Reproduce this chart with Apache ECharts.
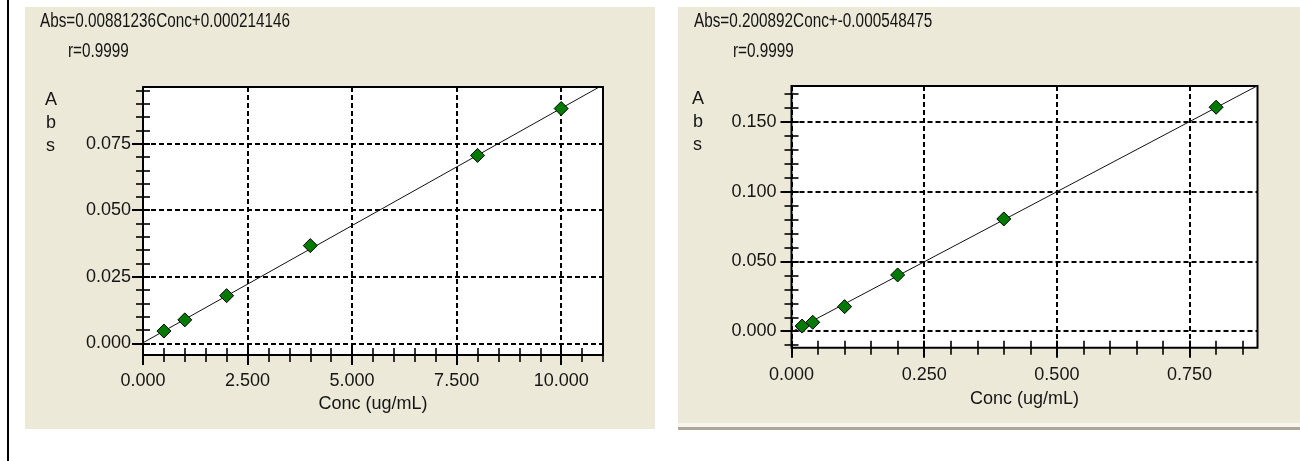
<!DOCTYPE html>
<html><head><meta charset="utf-8">
<script src="https://cdn.jsdelivr.net/npm/echarts@6/dist/echarts.min.js"></script>
<style>html,body{margin:0;padding:0;background:#fff}#c{width:1300px;height:461px}</style>
</head><body><div id="c"></div>
<script>
// ---- data ----
const concL = [0.5, 1, 2, 4, 8, 10];
const absL = [0.0046, 0.0088, 0.0179, 0.0367, 0.0706, 0.0882];
const fitL = [[0, 0.0002], [11, 0.0971]];
const xTicksL = [0, 2.5, 5, 7.5, 10];
const yTicksL = [0, 0.025, 0.05, 0.075];
const concR = [0.02, 0.04, 0.1, 0.2, 0.4, 0.8];
const absR = [0.0037, 0.0064, 0.0176, 0.0403, 0.0804, 0.1604];
const fitR = [[0, -0.0005], [0.878, 0.1758]];
const xTicksR = [0, 0.25, 0.5, 0.75];
const yTicksR = [0, 0.05, 0.1, 0.15];
const eqL = 'Abs=0.00881236Conc+0.000214146';
const eqR = 'Abs=0.200892Conc+-0.000548475';
const rText = 'r=0.9999';
const xName = 'Conc (ug/mL)';
const yNameLetters = ['A', 'b', 's'];

// axis extents
const rangeL = {xmin: 0, xmax: 11, ymin: -0.0044, ymax: 0.0963, xStep: 0.5, yStep: 0.005};
const rangeR = {xmin: 0, xmax: 0.878, ymin: -0.0118, ymax: 0.1756, xStep: 0.05, yStep: 0.01};

const FONT = '"Liberation Sans", Arial, sans-serif';
const FS = 18;
const TXT = '#151515';
const GREEN = '#007a00';

function minorVals(min, max, step) {
  const out = [];
  const start = Math.ceil(min / step - 1e-9);
  for (let i = start; i * step <= max + 1e-12; i++) out.push(Math.round(i * step * 1e6) / 1e6);
  return out;
}

const noZero = {show: false, onZero: false};

function xAxes(gi, r, majors, labelMargin, nameGap) {
  const minors = minorVals(r.xmin, r.xmax, r.xStep);
  return [
    {type: 'value', gridIndex: gi, min: r.xmin, max: r.xmax, position: 'bottom',
     axisLine: noZero, axisTick: {show: false, customValues: majors},
     axisLabel: {customValues: majors, formatter: v => v.toFixed(3), margin: labelMargin,
                 color: TXT, fontFamily: FONT, fontSize: FS},
     splitLine: {show: true, lineStyle: {type: [5, 3], color: '#000', width: 2}},
     name: xName, nameLocation: 'middle', nameGap: nameGap,
     nameTextStyle: {color: TXT, fontFamily: FONT, fontSize: FS}},
    {type: 'value', gridIndex: gi, min: r.xmin, max: r.xmax, position: 'bottom', offset: -7,
     axisLine: noZero, axisLabel: {show: false}, splitLine: {show: false},
     axisTick: {show: true, customValues: majors, length: 17, lineStyle: {color: '#000', width: 2}}},
    {type: 'value', gridIndex: gi, min: r.xmin, max: r.xmax, position: 'bottom', offset: -7,
     axisLine: noZero, axisLabel: {show: false}, splitLine: {show: false},
     axisTick: {show: true, customValues: minors, length: 14, lineStyle: {color: '#000', width: 1.6}}}
  ];
}
function yAxes(gi, r, majors, labelMargin) {
  const minors = minorVals(r.ymin, r.ymax, r.yStep);
  return [
    {type: 'value', gridIndex: gi, min: r.ymin, max: r.ymax, position: 'left',
     axisLine: noZero, axisTick: {show: false, customValues: majors},
     axisLabel: {customValues: majors, formatter: v => v.toFixed(3), margin: labelMargin,
                 color: TXT, fontFamily: FONT, fontSize: FS},
     splitLine: {show: true, lineStyle: {type: [5, 3], color: '#000', width: 2}}},
    {type: 'value', gridIndex: gi, min: r.ymin, max: r.ymax, position: 'left', offset: -7,
     axisLine: noZero, axisLabel: {show: false}, splitLine: {show: false},
     axisTick: {show: true, customValues: majors, length: 18, lineStyle: {color: '#000', width: 2}}},
    {type: 'value', gridIndex: gi, min: r.ymin, max: r.ymax, position: 'left', offset: -7,
     axisLine: noZero, axisLabel: {show: false}, splitLine: {show: false},
     axisTick: {show: true, customValues: minors, length: 14, lineStyle: {color: '#000', width: 1.6}}}
  ];
}

function txt(text, x, y, size, sx) {
  return {type: 'text', x: x, y: y, scaleX: sx || 1, z: 50, silent: true,
          style: {text: text, fill: TXT, fontFamily: FONT, fontSize: size, align: 'left', verticalAlign: 'middle'}};
}

const graphics = [
  {type: 'rect', z: -100, silent: true, shape: {x: 25, y: 7, width: 630, height: 422}, style: {fill: '#ece9d8'}},
  {type: 'rect', z: -100, silent: true, shape: {x: 678, y: 7, width: 622, height: 416}, style: {fill: '#ece9d8'}},
  {type: 'rect', z: -100, silent: true, shape: {x: 678, y: 423, width: 622, height: 4}, style: {fill: '#f7f5ee'}},
  {type: 'rect', z: -100, silent: true, shape: {x: 678, y: 427, width: 622, height: 3}, style: {fill: '#aca899'}},
  {type: 'rect', z: -100, silent: true, shape: {x: 7, y: 0, width: 2, height: 461}, style: {fill: '#000'}},
  txt(eqL, 40, 21.5, 20, 0.765), txt(rText, 68, 51, 20, 0.765),
  txt(eqR, 694, 21.5, 20, 0.765), txt(rText, 733, 51, 20, 0.765),
  txt(yNameLetters[0], 45, 100, FS), txt(yNameLetters[1], 46, 123, FS), txt(yNameLetters[2], 46, 146, FS),
  txt(yNameLetters[0], 692, 99, FS), txt(yNameLetters[1], 693, 122, FS), txt(yNameLetters[2], 693, 145, FS)
];

const option = {
  animation: false,
  backgroundColor: '#fff',
  grid: [
    {left: 143, top: 87, width: 460, height: 268, show: true, backgroundColor: '#fff',
     borderColor: '#000', borderWidth: 2, containLabel: false, outerBoundsMode: 'none'},
    {left: 791.5, top: 86, width: 466, height: 261.7, show: true, backgroundColor: '#fff',
     borderColor: '#000', borderWidth: 2, containLabel: false, outerBoundsMode: 'none'}
  ],
  xAxis: [].concat(xAxes(0, rangeL, xTicksL, 17, 40), xAxes(1, rangeR, xTicksR, 18, 42)),
  yAxis: [].concat(yAxes(0, rangeL, yTicksL, 12), yAxes(1, rangeR, yTicksR, 15)),
  graphic: graphics,
  series: [
    {type: 'line', xAxisIndex: 0, yAxisIndex: 0, data: fitL, showSymbol: false, symbol: 'none',
     lineStyle: {color: '#111', width: 1}, clip: true, silent: true, z: 3},
    {type: 'scatter', xAxisIndex: 0, yAxisIndex: 0, data: concL.map((c, i) => [c, absL[i]]),
     symbol: 'diamond', symbolSize: 14, itemStyle: {color: GREEN, borderColor: '#000', borderWidth: 1, opacity: 1}, z: 5},
    {type: 'line', xAxisIndex: 3, yAxisIndex: 3, data: fitR, showSymbol: false, symbol: 'none',
     lineStyle: {color: '#111', width: 1}, clip: true, silent: true, z: 3},
    {type: 'scatter', xAxisIndex: 3, yAxisIndex: 3, data: concR.map((c, i) => [c, absR[i]]),
     symbol: 'diamond', symbolSize: 14, itemStyle: {color: GREEN, borderColor: '#000', borderWidth: 1, opacity: 1}, z: 5}
  ]
};
const chart = echarts.init(document.getElementById('c'), null, {renderer: 'canvas'});
chart.setOption(option);
</script>
</body></html>
